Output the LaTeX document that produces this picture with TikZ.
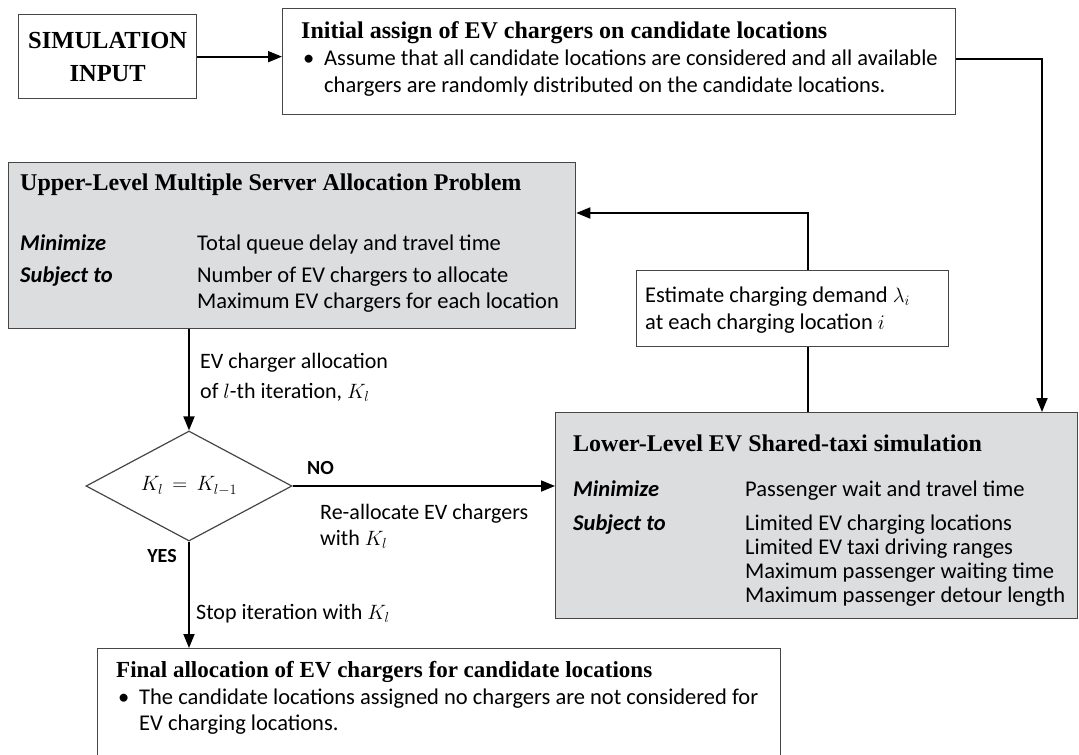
\documentclass[tikz,border=0pt]{standalone}
\usepackage{fontspec}
\setmainfont{Liberation Serif}
\newfontfamily\bodyfont{Carlito}
\usetikzlibrary{arrows.meta,shapes.geometric}
\definecolor{boxgray}{RGB}{220,221,223}
\definecolor{edgegray}{RGB}{70,70,70}
\begin{document}
\begin{tikzpicture}[x=1pt,y=-1pt,
  box/.style={draw=edgegray,line width=1.3pt,inner sep=0,anchor=north west},
  graybox/.style={box,fill=boxgray},
  conn/.style={line width=1.8pt,black},
  arr/.style={conn,-{Triangle[length=14pt,width=11pt]}},
  ttl/.style={anchor=base west,inner sep=0,font=\fontsize{24}{28}\selectfont\bfseries},
  txt/.style={anchor=base west,inner sep=0,font=\bodyfont\fontsize{22.5}{26}\selectfont},
  lbl/.style={anchor=base west,inner sep=0,font=\bodyfont\fontsize{22}{26}\selectfont},
  key/.style={anchor=base west,inner sep=0,font=\bodyfont\fontsize{22.5}{26}\selectfont\bfseries\itshape},
  yn/.style={inner sep=0,font=\bodyfont\fontsize{20}{24}\selectfont\bfseries}]
\path[use as bounding box] (0,0) rectangle (1079,755);
\clip (0,0) rectangle (1079,755);

% boxes
\node[box,minimum width=178pt,minimum height=84pt] (sim) at (18,14) {};
\node[font=\fontsize{24.5}{33}\selectfont\bfseries,align=center] (simtxt) at (sim.center) {SIMULATION\\INPUT};
\node[box,minimum width=673pt,minimum height=106pt] (init) at (282,8) {};
\node[graybox,minimum width=567pt,minimum height=166pt] (upper) at (8,162) {};
\node[box,minimum width=312pt,minimum height=76pt] (est) at (636,270) {};
\node[graybox,minimum width=522pt,minimum height=206pt] (lower) at (555,412) {};
\node[box,minimum width=683pt,minimum height=140pt] (final) at (97,648) {};
\node[diamond,draw=edgegray,line width=1.2pt,minimum width=206pt,minimum height=110pt,inner sep=0] (dia) at (189,486) {};
\node[font=\fontsize{22}{24}\selectfont] (diatxt) at (dia.center) {$K_l\,=\,K_{l-1}$};

% initial assignment
\node[ttl] (initT) at (301,38) {Initial assign of EV chargers on candidate locations};
\node[txt] (initB) at (303,65) {•};
\node[txt] (initL1) at (324,65) {Assume that all candidate locations are considered and all available};
\node[txt] (initL2) at (324,92) {chargers are randomly distributed on the candidate locations.};

% upper level
\node[ttl] (upT) at (20,190) {Upper-Level Multiple Server Allocation Problem};
\node[key] (upK1) at (20,250) {Minimize};
\node[txt] (upV1) at (197,250) {Total queue delay and travel time};
\node[key] (upK2) at (20,282) {Subject to};
\node[txt] (upV2) at (197,282) {Number of EV chargers to allocate};
\node[txt] (upV3) at (197,308) {Maximum EV chargers for each location};

% demand estimate
\node[txt] (estL1) at (645,302) {Estimate charging demand $\lambda_i$};
\node[txt] (estL2) at (645,329) {at each charging location $i$};

% lower level
\node[ttl] (loT) at (573,451) {Lower-Level EV Shared-taxi simulation};
\node[key] (loK1) at (573,496) {Minimize};
\node[txt] (loV1) at (745,496) {Passenger wait and travel time};
\node[key] (loK2) at (573,530) {Subject to};
\node[txt] (loV2) at (745,530) {Limited EV charging locations};
\node[txt] (loV3) at (745,554) {Limited EV taxi driving ranges};
\node[txt] (loV4) at (745,578) {Maximum passenger waiting time};
\node[txt] (loV5) at (745,602) {Maximum passenger detour length};

% final allocation
\node[ttl,font=\fontsize{23}{28}\selectfont\bfseries] (finT) at (116,677) {Final allocation of EV chargers for candidate locations};
\node[txt] (finB) at (118,704) {•};
\node[txt] (finL1) at (139,704) {The candidate locations assigned no chargers are not considered for};
\node[txt] (finL2) at (139,730) {EV charging locations.};

% edge labels
\node[lbl] (labA1) at (200,368) {EV charger allocation};
\node[lbl] (labA2) at (200,398) {of $l$-th iteration, $K_l$};
\node[yn,anchor=base west] (no) at (307,474) {NO};
\node[yn,anchor=base] (yes) at (162,562) {YES};
\node[lbl] (labB1) at (320,519) {Re-allocate EV chargers};
\node[lbl] (labB2) at (320,545) {with $K_l$};
\node[lbl] (labC) at (196,619) {Stop iteration with $K_l$};

% connectors
\coordinate (turnA) at (1042,59);
\coordinate (turnB) at (808,213);
\draw[arr] (sim.east) -- (sim.east -| init.west);
\draw[arr] (init.east |- turnA) -- (turnA) -- (turnA |- lower.north);
\draw[arr] (dia.north |- upper.south) -- (dia.north);
\draw[arr] (dia.east) -- (dia.east -| lower.west);
\draw[arr] (dia.south) -- (dia.south |- final.north);
\draw[conn] (turnB |- lower.north) -- (turnB |- est.south);
\draw[arr] (turnB |- est.north) -- (turnB) -- (turnB -| upper.east);
\end{tikzpicture}
\end{document}
